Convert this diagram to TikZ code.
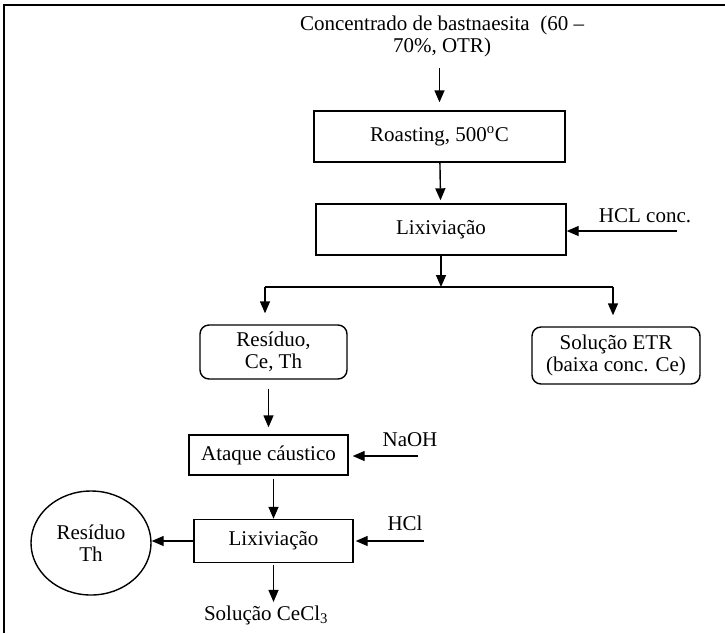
\documentclass[tikz,border=0pt]{standalone}
\usepackage{fontspec}
\setmainfont{Liberation Serif}
\usetikzlibrary{arrows.meta,positioning,shapes.geometric}

\begin{document}
\begin{tikzpicture}[x=1pt,y=-1pt,font=\fontsize{21}{22}\selectfont,
  >={Triangle[length=12pt,width=10pt]},
  proc/.style={draw,line width=1.4pt,inner sep=0pt},
  prod/.style={proc,rounded corners=9pt,align=center},
  flow/.style={->,line width=1.4pt}]
\useasboundingbox (0,0) rectangle (725,633);
\draw[line width=2pt] (4,633) -- (4,5) -- (725,5);

\node[align=center] (feed) at (442,36) {Concentrado de bastnaesita\ \ (60 –\\70\%, OTR)};
\node[proc,minimum width=251pt,minimum height=51pt] (roast) at (439.5,136.5) {Roasting, 500\textsuperscript{o}C};
\node[proc,minimum width=250pt,minimum height=51pt] (lix1) at (441,229.5) {Lixiviação};
\node (hcl1) at (645,216) {HCL conc.};
\coordinate (hcl1in) at (677,231);
\coordinate (split) at (441,287);
\coordinate (bl) at (265,287);
\coordinate (br) at (613,287);
\node[prod,minimum width=147pt,minimum height=54pt] (res1) at (273.5,352) {Resíduo,\\Ce, Th};
\node[prod,minimum width=168pt,minimum height=57pt] (etr) at (616,355.5) {Solução ETR\\(baixa conc. Ce)};
\node[proc,minimum width=159pt,minimum height=40pt] (ataque) at (268.5,455) {Ataque cáustico};
\node (naoh) at (410,440) {NaOH};
\coordinate (naohin) at (418,456);
\node[proc,minimum width=159pt,minimum height=43pt] (lix2) at (273.5,541) {Lixiviação};
\node (hcl2) at (405,523) {HCl};
\coordinate (hcl2in) at (424,541);
\node[ellipse,draw,line width=1.4pt,inner sep=0pt,align=center,minimum width=120pt,minimum height=104pt] (rth) at (91,543) {Resíduo\\Th};
\node (cecl) at (266,615) {Solução CeCl\textsubscript{3}};

\draw[flow,shorten <=8pt,shorten >=8pt] (feed.south -| roast) -- (roast.north);
\draw[flow,shorten >=3pt] (roast) -- (lix1);
\draw[flow] (hcl1in) -- (hcl1in -| lix1.east);
\draw[flow] (lix1.south) -- (split);
\draw[line width=1.4pt] (bl) -- (br);
\draw[flow,shorten >=11pt] (bl) -- (res1.north -| bl);
\draw[flow,shorten >=11pt] (br) -- (etr.north -| br);
\draw[flow,shorten <=9pt,shorten >=7pt] (ataque.north |- res1.south) -- (ataque.north);
\draw[flow,shorten >=4pt] (naohin) -- (naohin -| ataque.east);
\draw[flow,shorten <=3pt] (ataque.south -| lix2) -- (lix2.north);
\draw[flow,shorten >=2pt] (hcl2in) -- (hcl2in -| lix2.east);
\draw[flow] (lix2.west) -- (lix2.west -| rth.east);
\draw[flow,shorten <=2pt] (lix2.south) -- (lix2.south |- cecl.north);
\end{tikzpicture}
\end{document}
